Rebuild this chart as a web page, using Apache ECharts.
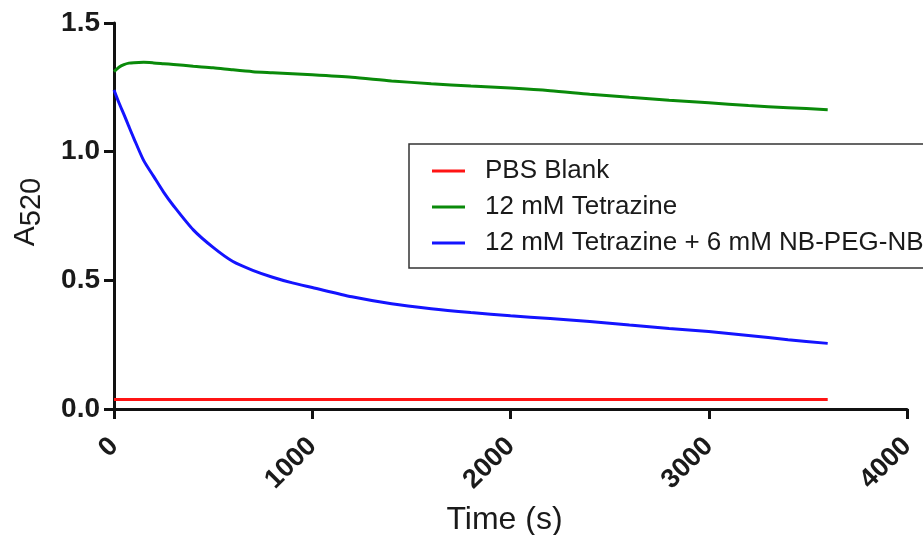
<!DOCTYPE html>
<html>
<head>
<meta charset="utf-8">
<script src="https://cdn.jsdelivr.net/npm/echarts@6/dist/echarts.min.js"></script>
<style>
html,body{margin:0;padding:0;background:#fff;}
#chart{width:923px;height:535px;}
</style>
</head>
<body>
<div id="chart"></div>
<script>
const seriesNames = ['PBS Blank', '12 mM Tetrazine', '12 mM Tetrazine + 6 mM NB-PEG-NB'];
const seriesColors = ['#ff1414', '#0a8a0a', '#1414ff'];
const times = [0, 25, 50, 75, 100, 150, 200, 250, 300, 400, 500, 600, 700, 800, 900, 1000, 1200, 1400, 1600, 1800, 2000, 2200, 2400, 2600, 2800, 3000, 3200, 3400, 3600];
const pbsBlank = [0.037, 0.037, 0.037, 0.037, 0.037, 0.037, 0.037, 0.037, 0.037, 0.037, 0.037, 0.037, 0.037, 0.037, 0.037, 0.037, 0.037, 0.037, 0.037, 0.037, 0.037, 0.037, 0.037, 0.037, 0.037, 0.037, 0.037, 0.037, 0.037];
const tetrazine = [1.311, 1.328, 1.338, 1.344, 1.346, 1.347, 1.345, 1.342, 1.339, 1.332, 1.326, 1.318, 1.311, 1.307, 1.303, 1.299, 1.289, 1.275, 1.264, 1.255, 1.247, 1.237, 1.223, 1.211, 1.200, 1.190, 1.179, 1.171, 1.163];
const tetrazineNB = [1.240, 1.190, 1.145, 1.098, 1.052, 0.965, 0.904, 0.843, 0.790, 0.696, 0.628, 0.573, 0.539, 0.512, 0.490, 0.472, 0.436, 0.409, 0.390, 0.375, 0.362, 0.352, 0.340, 0.326, 0.313, 0.301, 0.286, 0.269, 0.255];
const xTicks = [0, 1000, 2000, 3000, 4000];
const yTicks = [0.0, 0.5, 1.0, 1.5];

const FONT = '"Liberation Sans", Arial, Helvetica, sans-serif';
const valuesList = [pbsBlank, tetrazine, tetrazineNB];

const chart = echarts.init(document.getElementById('chart'), null, {renderer: 'canvas'});
chart.setOption({
  animation: false,
  backgroundColor: '#ffffff',
  color: seriesColors,
  grid: {left: 114, right: 16, top: 23, bottom: 126, containLabel: false, outerBoundsMode: 'none'},
  legend: {
    orient: 'vertical',
    left: 409,
    top: 144,
    padding: [14, 40, 12, 23],
    itemGap: 10,
    itemWidth: 33,
    itemHeight: 3,
    icon: 'rect',
    borderColor: '#333',
    borderWidth: 1.5,
    backgroundColor: '#fff',
    data: seriesNames,
    textStyle: {fontFamily: FONT, fontSize: 26, color: '#1a1a1a', padding: [0, 0, 0, 15]}
  },
  xAxis: {
    type: 'value',
    min: xTicks[0],
    max: xTicks[xTicks.length - 1],
    interval: 1000,
    name: 'Time (s)',
    nameLocation: 'middle',
    nameGap: 95,
    nameTextStyle: {fontFamily: FONT, fontSize: 32, color: '#1a1a1a', verticalAlign: 'top', padding: [0, 12, 0, 0]},
    axisLine: {show: true, onZero: false, lineStyle: {color: '#111', width: 3}},
    axisTick: {show: true, length: 10, lineStyle: {color: '#111', width: 3}},
    splitLine: {show: false},
    axisLabel: {
      rotate: 45, margin: 33, fontFamily: FONT, fontSize: 27, fontWeight: 'bold', color: '#1a1a1a',
      showMinLabel: true, showMaxLabel: true,
      formatter: v => String(v)
    }
  },
  yAxis: {
    type: 'value',
    min: yTicks[0],
    max: yTicks[yTicks.length - 1],
    interval: 0.5,
    name: '{a|A}{s|520}',
    nameLocation: 'middle',
    nameRotate: 90,
    nameGap: 68,
    nameTextStyle: {
      fontFamily: FONT, color: '#1a1a1a', padding: [0, 0, 0, 8],
      rich: {
        a: {fontFamily: FONT, fontSize: 30, color: '#1a1a1a', verticalAlign: 'top'},
        s: {fontFamily: FONT, fontSize: 29, color: '#1a1a1a', verticalAlign: 'bottom', padding: [6, 0, 0, 0]}
      }
    },
    axisLine: {show: true, onZero: false, lineStyle: {color: '#111', width: 3}},
    axisTick: {show: true, length: 10, lineStyle: {color: '#111', width: 3}},
    splitLine: {show: false},
    axisLabel: {
      margin: 14, fontFamily: FONT, fontSize: 28, fontWeight: 'bold', color: '#1a1a1a',
      formatter: v => v.toFixed(1)
    }
  },
  series: seriesNames.map((name, i) => ({
    name: name,
    type: 'line',
    showSymbol: false,
    symbol: 'none',
    smooth: 0.25,
    lineStyle: {width: 3, color: seriesColors[i]},
    itemStyle: {color: seriesColors[i]},
    data: times.map((t, j) => [t, valuesList[i][j]]),
    z: 2 + i
  }))
});
</script>
</body>
</html>
